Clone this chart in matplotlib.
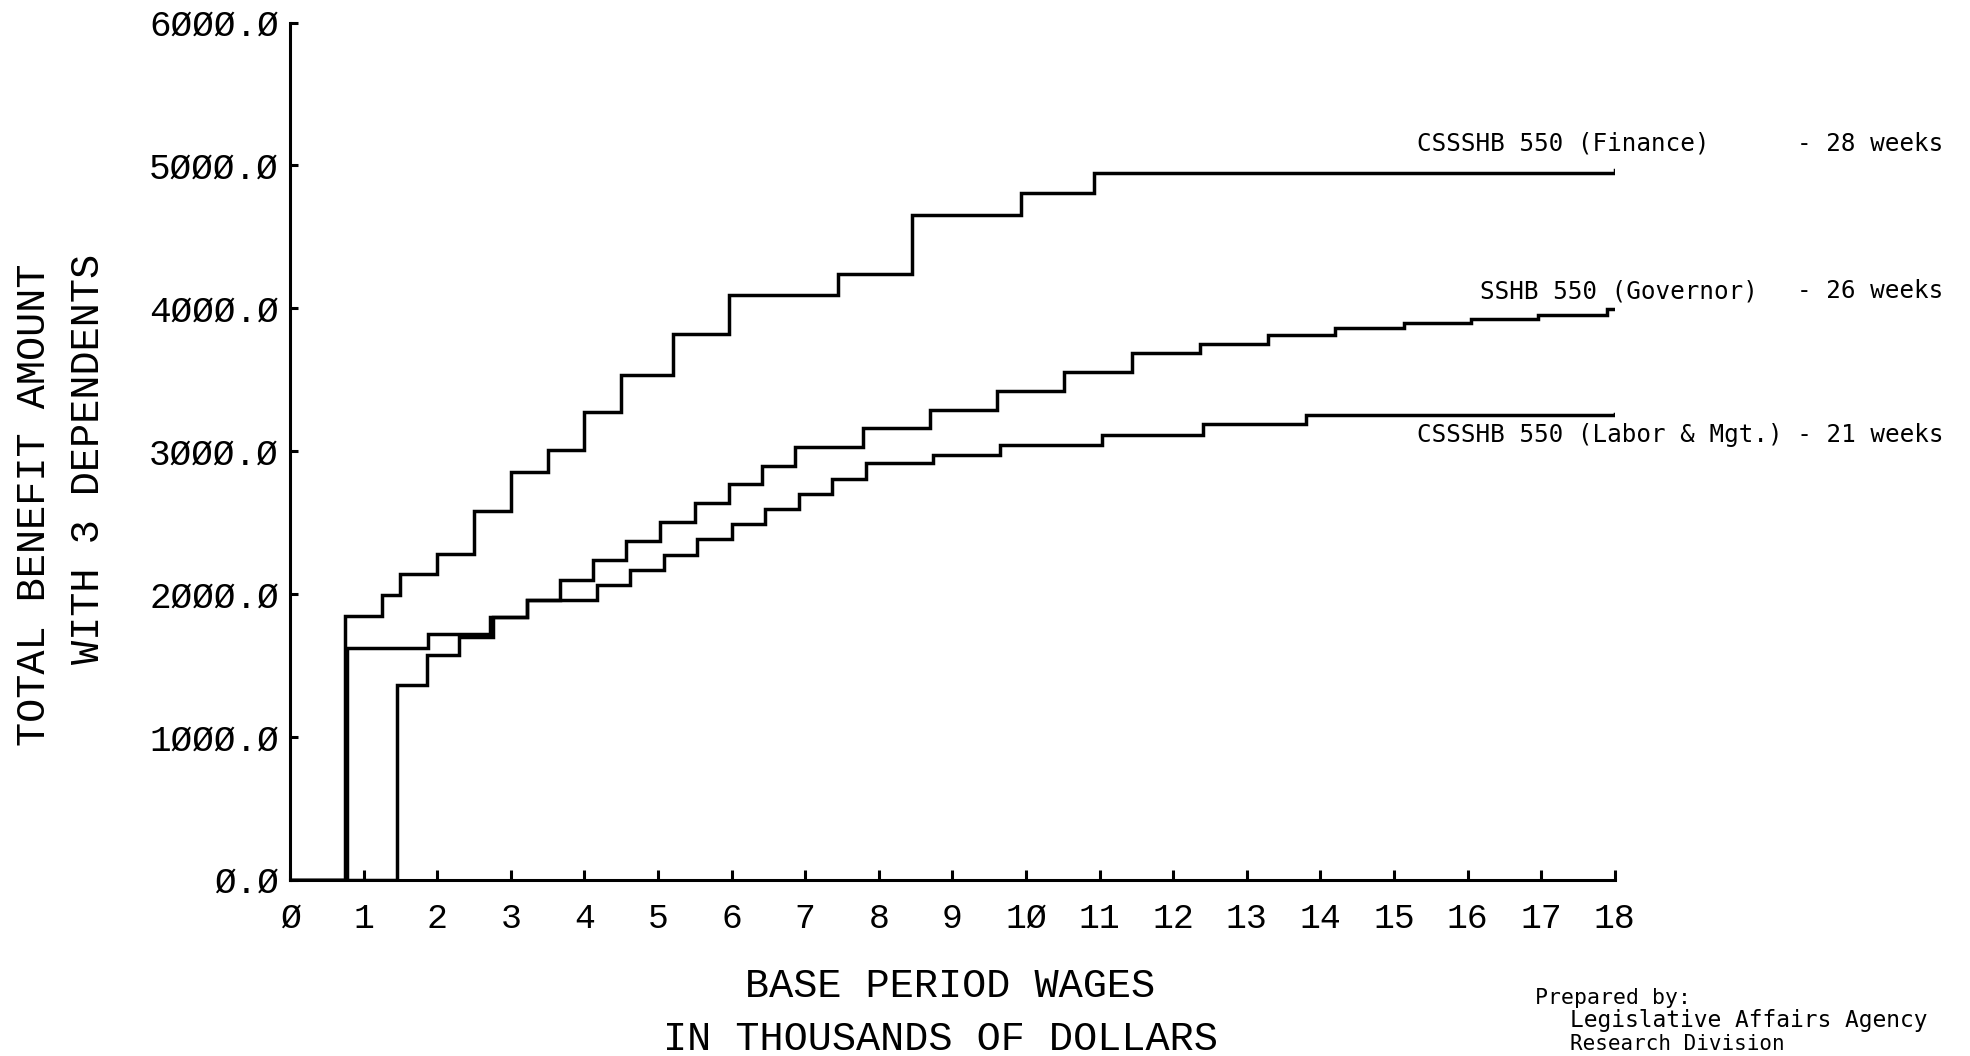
import matplotlib
matplotlib.use('Agg')
import matplotlib.pyplot as plt

# ---------------- data ----------------
finance_x = [0, 0.75, 1.25, 1.5, 2.0, 2.5, 3.0, 3.5, 4.0, 4.5, 5.2, 5.96, 7.45,
             8.45, 9.93, 10.93, 18.0]
finance_y = [0, 1845, 1990, 2140, 2280, 2580, 2850, 3010, 3275, 3530, 3818, 4092,
             4238, 4655, 4806, 4950, 4970]

governor_x = [0, 0.77, 1.88, 2.72, 3.22, 3.67, 4.12, 4.57, 5.03, 5.5, 5.96, 6.41,
              6.86, 7.78, 8.69, 9.6, 10.51, 11.44, 12.36, 13.29, 14.2, 15.13,
              16.05, 16.96, 17.9, 18.0]
governor_y = [0, 1618, 1718, 1835, 1957, 2097, 2234, 2368, 2505, 2638, 2766, 2895,
              3030, 3158, 3287, 3422, 3555, 3688, 3753, 3812, 3859, 3898, 3922,
              3952, 3998, 3998]

labor_x = [0, 1.45, 1.86, 2.30, 2.76, 3.22, 4.17, 4.62, 5.08, 5.53, 6.0, 6.45,
           6.91, 7.37, 7.83, 8.74, 9.65, 11.03, 12.41, 13.8, 18.0]
labor_y = [0, 1362, 1572, 1695, 1835, 1957, 2062, 2167, 2272, 2381, 2489, 2592,
           2699, 2804, 2913, 2972, 3042, 3112, 3189, 3252, 3260]

x_ticks = list(range(0, 19))
x_tick_labels = ['Ø', '1', '2', '3', '4', '5', '6', '7', '8', '9', '1Ø', '11',
                 '12', '13', '14', '15', '16', '17', '18']
y_ticks = [0, 1000, 2000, 3000, 4000, 5000, 6000]
y_tick_labels = ['Ø.Ø', '1ØØØ.Ø', '2ØØØ.Ø', '3ØØØ.Ø', '4ØØØ.Ø', '5ØØØ.Ø', '6ØØØ.Ø']

series_names = ['CSSSHB 550 (Finance)', 'SSHB 550 (Governor)',
                'CSSSHB 550 (Labor & Mgt.)']
series_weeks = ['- 28 weeks', '- 26 weeks', '- 21 weeks']

# ---------------- figure ----------------
W, H = 1970, 1056
fig = plt.figure(figsize=(W / 100, H / 100), dpi=100)
fig.patch.set_facecolor('white')

x0, x1 = 290, 1614.8
yb, yt = 879.5, 22.6
ax = fig.add_axes([x0 / W, 1 - yb / H, (x1 - x0) / W, (yb - yt) / H])

plot_font = ['Liberation Mono', 'DejaVu Sans Mono']
type_font = ['DejaVu Sans Mono']

for xs, ys in [(finance_x, finance_y), (governor_x, governor_y), (labor_x, labor_y)]:
    ax.step(xs, ys, where='post', color='black', lw=2.5, solid_joinstyle='miter')

ax.set_xlim(0, 18)
ax.set_ylim(0, 6000)
for s in ['top', 'right']:
    ax.spines[s].set_visible(False)
for s in ['left', 'bottom']:
    ax.spines[s].set_linewidth(2.2)

ax.set_xticks(x_ticks)
ax.set_xticklabels(x_tick_labels, fontfamily=plot_font, fontsize=25)
ax.set_yticks(y_ticks)
ax.set_yticklabels(y_tick_labels, fontfamily=plot_font, fontsize=26)
ax.tick_params(axis='x', direction='in', length=7, width=2.2, pad=16)
ax.tick_params(axis='y', direction='in', length=6, width=2.2, pad=8)

# axis titles
fig.text(34 / W, 1 - 505 / H, 'TOTAL BENEFIT AMOUNT', rotation=90, ha='center',
         va='center', fontfamily=plot_font, fontsize=29)
fig.text(88 / W, 1 - 459 / H, 'WITH 3 DEPENDENTS', rotation=90, ha='center',
         va='center', fontfamily=plot_font, fontsize=29)
fig.text(950 / W, 1 - 986 / H, 'BASE PERIOD WAGES', ha='center', va='center',
         fontfamily=plot_font, fontsize=29)
fig.text(940 / W, 1 - 1039 / H, 'IN THOUSANDS OF DOLLARS', ha='center', va='center',
         fontfamily=plot_font, fontsize=29)

# series labels
name_x = [1417, 1480, 1417]
name_y = [144, 291, 435]
weeks_x = 1797
for i in range(3):
    if i < 2:
        fig.text(name_x[i] / W, 1 - name_y[i] / H, series_names[i], ha='left',
                 va='center', fontfamily=type_font, fontsize=17.5)
        fig.text(weeks_x / W, 1 - name_y[i] / H, series_weeks[i], ha='left',
                 va='center', fontfamily=type_font, fontsize=17.5)
    else:
        fig.text(name_x[i] / W, 1 - name_y[i] / H,
                 series_names[i] + ' ' + series_weeks[i], ha='left',
                 va='center', fontfamily=type_font, fontsize=17.5)

# credits
fig.text(1535 / W, 1 - 998 / H, 'Prepared by:', ha='left', va='center',
         fontfamily=type_font, fontsize=15.5)
fig.text(1570 / W, 1 - 1021 / H, 'Legislative Affairs Agency', ha='left', va='center',
         fontfamily=type_font, fontsize=16.5)
fig.text(1570 / W, 1 - 1044 / H, 'Research Division', ha='left', va='center',
         fontfamily=type_font, fontsize=15)

fig.savefig('out.png', dpi=100, facecolor='white')
